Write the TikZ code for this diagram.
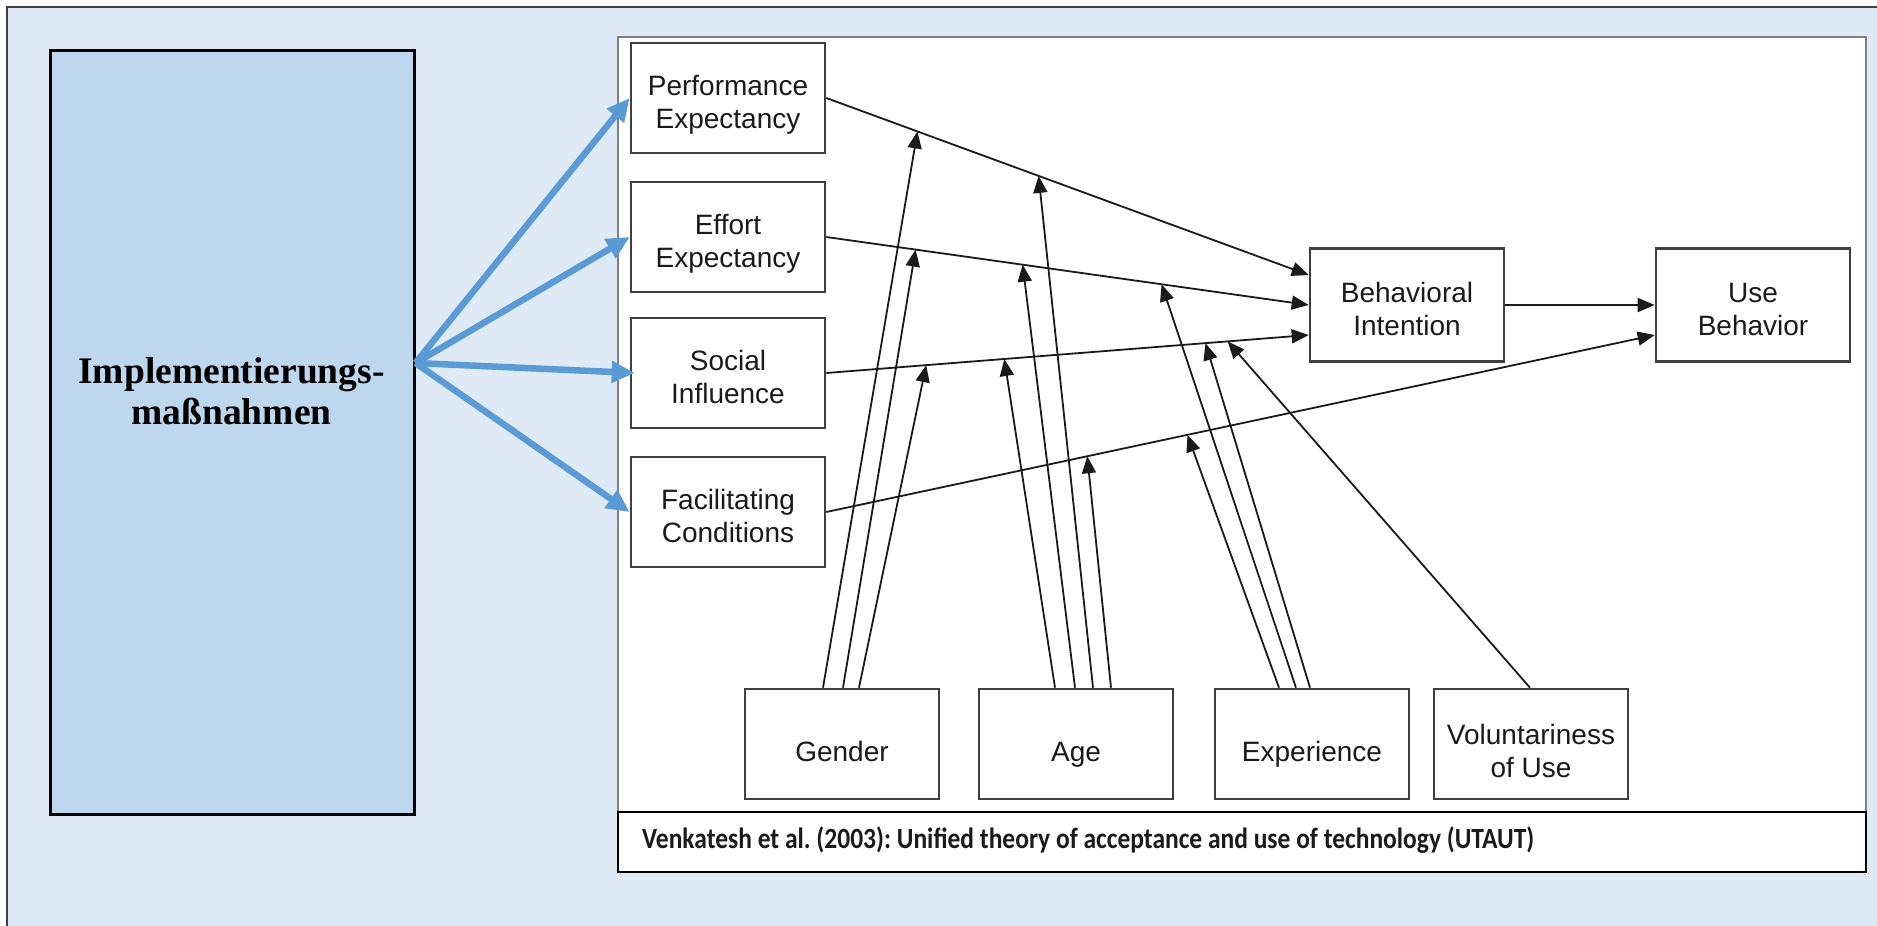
\documentclass[tikz,border=0pt]{standalone}
\usepackage{fontspec}
\setmainfont{Liberation Sans}
\newfontfamily\captionfont{Carlito}
\newfontfamily\titlefont{Liberation Serif}
\usetikzlibrary{arrows.meta}

\definecolor{pagebg}{HTML}{DEEAF6}
\definecolor{implfill}{HTML}{BDD7EE}
\definecolor{implarrow}{HTML}{5B9BD5}
\definecolor{boxline}{HTML}{3F3F3F}
\definecolor{framegray}{HTML}{7F7F7F}
\definecolor{ink}{HTML}{1A1A1A}

\begin{document}
\begin{tikzpicture}[x=1pt,y=-1pt,
  construct/.style={draw=boxline, line width=2.6pt, fill=white,
    minimum width=194pt, minimum height=110pt, inner sep=0pt,
    align=center, text=ink, font=\fontsize{28pt}{33pt}\selectfont,
    text height=66pt, text depth=6pt},
  oneline/.style={text height=41pt, text depth=6pt},
  effect/.style={draw=ink, line width=1.8pt,
    -{Triangle[length=17pt,width=14pt]}},
  measure/.style={draw=implarrow, line width=6.5pt,
    -{Triangle[length=23pt,width=21pt]}},
  panel/.style={fill=white, inner sep=0pt},
]
\useasboundingbox (0,0) rectangle (1877,926);
\fill[white] (0,0) rectangle (1877,926);
% page background panel (continues past the right and bottom edges)
\draw[fill=pagebg, draw=boxline, line width=2pt] (7,7) rectangle (1930,990);

% left block: implementation measures
\node[draw=black, line width=3pt, fill=implfill, minimum width=364pt,
      minimum height=764pt, inner sep=0pt] (impl) at (232,432) {};
\node[font=\titlefont\bfseries\fontsize{37.5pt}{41pt}\selectfont, align=center,
      text=black, inner sep=0pt] (impltext) at (231.5,391) {Implementierungs-\\maßnahmen};

% UTAUT model panel and its caption strip
\node[panel, draw=framegray, line width=2pt, minimum width=1248pt,
      minimum height=775pt] (utaut) at (1242,424.5) {};
\node[panel, draw=black, line width=2pt, minimum width=1248pt,
      minimum height=60pt] (capbox) at (1242,842) {};
\node[anchor=west, inner sep=0pt, text=ink,
      font=\captionfont\bfseries\fontsize{25.5pt}{28pt}\selectfont] (captext)
      at (642,840) {\frenchspacing\scalebox{1}[1.15]{Venkatesh et al. (2003): Unified theory of acceptance and use of technology (UTAUT)}};

% constructs
\node[construct] (PE) at (728,98)  {Performance\\Expectancy};
\node[construct] (EE) at (728,237) {Effort\\Expectancy};
\node[construct] (SI) at (728,373) {Social\\Influence};
\node[construct] (FC) at (728,512) {Facilitating\\Conditions};
\node[construct, minimum height=113pt] (BI) at (1407,305) {Behavioral\\Intention};
\node[construct, minimum height=113pt] (UB) at (1753,305) {Use\\Behavior};

% moderators
\node[construct, oneline] (G) at (842,744)  {Gender};
\node[construct, oneline] (A) at (1076,744) {Age};
\node[construct, oneline] (X) at (1312,744) {Experience};
\node[construct, text height=73pt] (V) at (1531,744) {Voluntariness\\of Use};

% main effects, with the points where the moderators attach
\draw[effect] (PE.east) -- coordinate[pos=0.189] (pe1) coordinate[pos=0.44] (pe2)
  ([yshift=30pt]BI.west);
\draw[effect] (EE.east) -- coordinate[pos=0.185] (ee1) coordinate[pos=0.407] (ee2)
  coordinate[pos=0.695] (ee3) (BI.west);
\draw[effect] (SI.east) -- coordinate[pos=0.207] (si1) coordinate[pos=0.369] (si2)
  coordinate[pos=0.786] (si3) coordinate[pos=0.832] (si4) ([yshift=-30pt]BI.west);
\draw[effect] (FC.east) -- coordinate[pos=0.315] (fc1) coordinate[pos=0.436] (fc2)
  ([yshift=-30pt]UB.west);
\draw[effect] (BI.east) -- (UB.west);

% moderating effects
\draw[effect] ([xshift=-19pt]G.north) -- (pe1);
\draw[effect] ([xshift=1pt]G.north)   -- (ee1);
\draw[effect] ([xshift=17pt]G.north)  -- (si1);
\draw[effect] ([xshift=-21pt]A.north) -- (si2);
\draw[effect] ([xshift=-1pt]A.north)  -- (ee2);
\draw[effect] ([xshift=17pt]A.north)  -- (pe2);
\draw[effect] ([xshift=35pt]A.north)  -- (fc1);
\draw[effect] ([xshift=-33pt]X.north) -- (fc2);
\draw[effect] ([xshift=-16pt]X.north) -- (ee3);
\draw[effect] ([xshift=-2pt]X.north)  -- (si3);
\draw[effect] ([xshift=-1pt]V.north)  -- (si4);

% measures acting on the four determinants
\coordinate (hub) at ([yshift=69pt]impl.east);
\draw[measure] (hub) -- (PE.west);
\draw[measure] (hub) -- (EE.west);
\draw[measure] (hub) -- ([xshift=5pt]SI.west);
\draw[measure] (hub) -- (FC.west);
\end{tikzpicture}
\end{document}
